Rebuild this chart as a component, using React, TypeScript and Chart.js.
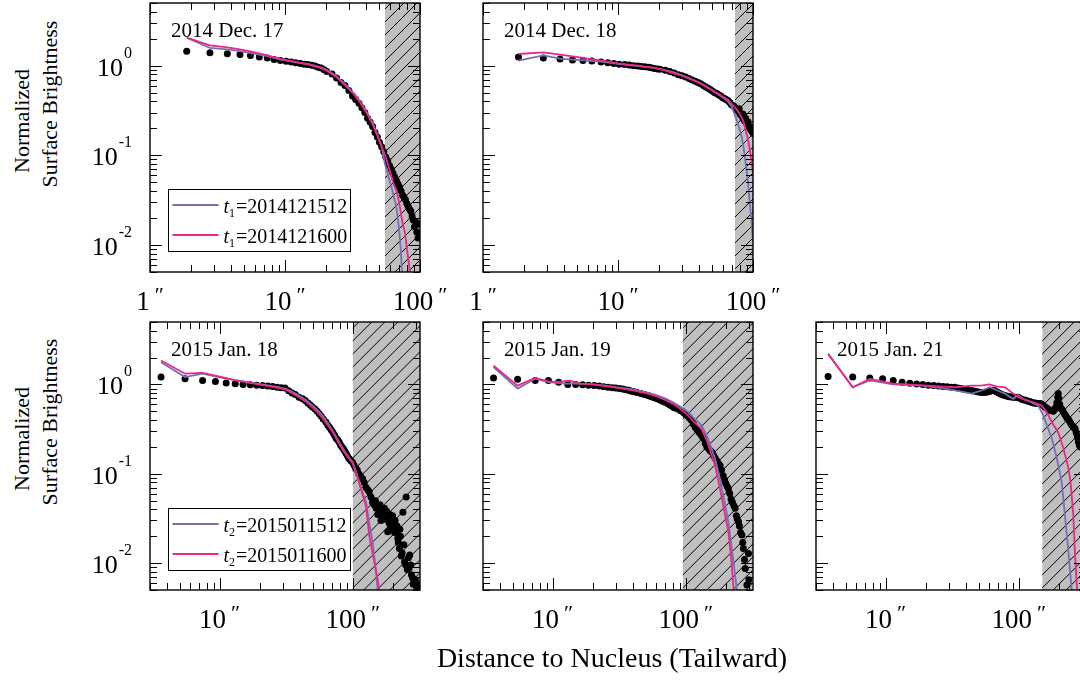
import React, { useEffect, useRef } from "react";
import { Chart, registerables } from "chart.js";

Chart.register(...registerables);

const FONT = '"Liberation Serif", "Times New Roman", serif';
const BLUE = "#7570b3";
const PINK = "#e7298a";
const HATCH_GRAY = "#bfbfbf";
const M = 60;

// ---------- 2014 Dec. 17 ----------
const dec17Dist = [1.87, 2.78, 3.74, 4.64, 5.55, 6.45, 7.4, 8.3, 9.25, 10.2, 11.1, 12.0, 13.0, 13.9, 14.8, 15.8, 16.7, 17.6, 18.5, 19.5, 20.4, 22.3, 24.1, 26.0, 27.8, 29.7, 31.6, 33.4, 35.3, 37.1, 39.0, 40.9, 42.7, 44.6, 46.4, 48.3, 50.1, 52.0, 53.9, 55.7, 57.6, 59.4, 61.3, 63.1, 65.0, 66.9, 68.7, 70.6, 72.4, 74.3, 76.1, 78.0, 79.9, 81.7, 83.6, 85.4, 87.3, 89.1, 91.0, 92.9, 94.7, 96.6, 98.4, 100.3];
const dec17Obs = [1.45, 1.39, 1.36, 1.33, 1.30, 1.25, 1.22, 1.17, 1.14, 1.12, 1.10, 1.08, 1.06, 1.04, 1.03, 1.01, 0.99, 0.96, 0.94, 0.90, 0.86, 0.81, 0.73, 0.65, 0.60, 0.53, 0.46, 0.42, 0.38, 0.34, 0.30, 0.26, 0.235, 0.21, 0.18, 0.16, 0.14, 0.125, 0.11, 0.096, 0.087, 0.077, 0.07, 0.063, 0.057, 0.052, 0.048, 0.044, 0.040, 0.036, 0.034, 0.032, 0.029, 0.027, 0.025, 0.024, 0.021, 0.019, 0.016, 0.018, 0.014, 0.012, 0.017, 0.013];
const dec17DistA = [1.87, 2.78, 3.74, 4.64, 5.55, 7.4, 9.25, 12, 15, 18, 20.4, 24, 28, 32, 36, 40, 44, 48, 52, 55, 58, 62, 67, 70, 72, 73.5, 75];
const dec17ModelA = [2.05, 1.58, 1.52, 1.45, 1.38, 1.28, 1.17, 1.09, 1.04, 0.97, 0.9, 0.77, 0.62, 0.5, 0.4, 0.31, 0.24, 0.175, 0.125, 0.08, 0.06, 0.042, 0.026, 0.015, 0.009, 0.005, 0.003];
const dec17DistB = [1.87, 2.78, 3.74, 4.64, 5.55, 7.4, 9.25, 12, 15, 18, 20.4, 24, 28, 32, 36, 40, 44, 48, 52, 56, 60, 64, 67, 70, 74, 77.6, 80, 82, 84, 86];
const dec17ModelB = [2.05, 1.68, 1.6, 1.52, 1.44, 1.3, 1.19, 1.1, 1.03, 0.95, 0.88, 0.75, 0.6, 0.49, 0.39, 0.3, 0.23, 0.17, 0.125, 0.094, 0.066, 0.047, 0.04, 0.03, 0.018, 0.0134, 0.009, 0.007, 0.005, 0.003];

// ---------- 2014 Dec. 18 ----------
const dec18Dist = [1.83, 2.8, 3.72, 4.6, 5.5, 6.4, 7.5, 8.4, 9.3, 10.2, 11.2, 12.1, 13.0, 14.0, 14.9, 15.8, 16.8, 17.7, 18.6, 19.6, 20.5, 22.4, 24.2, 26.1, 28.0, 29.8, 31.7, 33.6, 35.4, 37.3, 39.1, 41.0, 42.9, 44.7, 46.6, 48.5, 50.3, 52.2, 54.0, 55.9, 57.8, 59.6, 61.5, 63.4, 65.2, 67.1, 69.0, 70.8, 72.7, 74.5, 76.4, 78.3, 80.1, 82.0, 83.9, 85.7, 87.6, 89.4, 91.3, 93.2, 95.0, 96.9, 98.8, 100.6, 79, 84, 88, 92, 97, 99.5];
const dec18Obs = [1.25, 1.22, 1.19, 1.16, 1.14, 1.13, 1.10, 1.08, 1.06, 1.04, 1.03, 1.02, 1.0, 0.99, 0.98, 0.97, 0.96, 0.95, 0.93, 0.92, 0.91, 0.89, 0.86, 0.83, 0.79, 0.77, 0.75, 0.72, 0.69, 0.67, 0.65, 0.63, 0.60, 0.58, 0.56, 0.54, 0.52, 0.50, 0.49, 0.47, 0.46, 0.44, 0.43, 0.42, 0.41, 0.39, 0.37, 0.36, 0.35, 0.33, 0.32, 0.31, 0.29, 0.28, 0.265, 0.25, 0.24, 0.23, 0.22, 0.21, 0.20, 0.19, 0.182, 0.175, 0.33, 0.29, 0.26, 0.235, 0.205, 0.19];
const dec18DistA = [1.83, 2.8, 3.72, 4.6, 5.5, 7.5, 10, 14, 18, 22, 26, 30, 35, 40, 45, 50, 55, 60, 65, 69.4, 73, 77, 80, 82.5, 86, 89, 92, 95, 97.5, 99, 100];
const dec18ModelA = [1.14, 1.30, 1.20, 1.17, 1.15, 1.11, 1.05, 0.99, 0.95, 0.90, 0.84, 0.78, 0.71, 0.65, 0.59, 0.53, 0.48, 0.44, 0.40, 0.35, 0.29, 0.23, 0.19, 0.16, 0.11, 0.075, 0.048, 0.028, 0.018, 0.013, 0.011];
const dec18DistB = [1.83, 2.8, 3.72, 4.6, 5.5, 7.5, 10, 14, 18, 22, 26, 30, 35, 40, 45, 50, 55, 60, 65, 70, 75, 80, 85, 87, 90, 93, 95, 97, 99, 100];
const dec18ModelB = [1.35, 1.41, 1.33, 1.27, 1.22, 1.14, 1.06, 1.0, 0.95, 0.89, 0.82, 0.77, 0.70, 0.64, 0.58, 0.53, 0.49, 0.45, 0.42, 0.37, 0.33, 0.29, 0.24, 0.21, 0.17, 0.135, 0.114, 0.09, 0.07, 0.062];

// ---------- 2015 Jan. 18 ----------
const jan18Dist = [3.63, 5.5, 7.45, 9.3, 11.2, 13.1, 15.0, 17, 19, 21, 23, 25, 27, 29, 31, 33, 35, 37, 39.5, 42, 44, 46, 48, 49.7, 52, 54, 56, 58, 60, 62.8, 65, 67, 69, 71, 73, 75, 77, 79, 81, 83, 85, 87, 89, 91, 93, 95, 97, 99.6, 102, 105, 108, 111, 114, 118.5, 122, 126, 130, 133, 137, 141, 145, 150, 154, 158, 163, 168, 173, 178, 183, 188, 195, 199, 204, 208, 212, 218, 224, 228, 232, 238, 242, 245, 252, 257, 262, 268, 272, 276, 282, 290, 300, 312, 148, 160, 165, 170, 175, 180, 185, 190, 192, 200, 206, 215, 220, 226, 235, 250, 265, 285, 295, 305];
const jan18Obs = [1.21, 1.16, 1.11, 1.08, 1.04, 1.02, 1.0, 0.99, 0.98, 0.97, 0.96, 0.95, 0.93, 0.92, 0.91, 0.85, 0.80, 0.77, 0.72, 0.69, 0.66, 0.62, 0.59, 0.56, 0.53, 0.50, 0.47, 0.44, 0.41, 0.38, 0.35, 0.33, 0.31, 0.29, 0.27, 0.25, 0.24, 0.227, 0.21, 0.20, 0.19, 0.18, 0.17, 0.16, 0.15, 0.145, 0.14, 0.135, 0.125, 0.115, 0.11, 0.10, 0.095, 0.088, 0.08, 0.07, 0.066, 0.063, 0.055, 0.048, 0.045, 0.041, 0.035, 0.037, 0.03, 0.033, 0.041, 0.031, 0.0224, 0.028, 0.028, 0.034, 0.024, 0.03, 0.0224, 0.019, 0.0146, 0.02, 0.012, 0.037, 0.016, 0.0103, 0.055, 0.0085, 0.0115, 0.0123, 0.0095, 0.0074, 0.0068, 0.0062, 0.0055, 0.0052, 0.05, 0.045, 0.038, 0.04, 0.034, 0.038, 0.03, 0.035, 0.025, 0.028, 0.022, 0.026, 0.017, 0.024, 0.013, 0.0095, 0.0088, 0.0058, 0.0065, 0.0058];
const jan18DistA = [3.63, 5.5, 7.45, 10, 13, 17, 22, 27, 31, 35, 40, 45, 50, 55, 60, 65, 70, 75, 80, 85, 90, 95, 100, 105, 110, 115, 120, 126, 132, 136, 141, 146, 150, 154, 158];
const jan18ModelA = [1.77, 1.21, 1.32, 1.2, 1.12, 1.05, 0.99, 0.94, 0.90, 0.83, 0.74, 0.66, 0.58, 0.51, 0.44, 0.37, 0.31, 0.26, 0.22, 0.19, 0.165, 0.148, 0.135, 0.11, 0.088, 0.07, 0.058, 0.048, 0.03, 0.023, 0.0173, 0.011, 0.0075, 0.005, 0.003];
const jan18DistB = [3.63, 5.5, 7.45, 10, 13, 17, 22, 27, 31, 35, 40, 45, 50, 55, 60, 65, 70, 75, 80, 85, 90, 95, 100, 105, 110, 115, 120, 126, 133, 138, 144, 150, 154, 158, 162];
const jan18ModelB = [1.85, 1.32, 1.35, 1.22, 1.12, 1.04, 0.97, 0.92, 0.88, 0.8, 0.71, 0.63, 0.55, 0.48, 0.41, 0.35, 0.3, 0.25, 0.21, 0.18, 0.16, 0.145, 0.13, 0.105, 0.085, 0.068, 0.055, 0.043, 0.0205, 0.015, 0.011, 0.008, 0.0065, 0.005, 0.003];

// ---------- 2015 Jan. 19 ----------
const jan19Dist = [3.6, 5.46, 7.4, 9.3, 11.1, 13, 14.9, 16.8, 18.6, 20.5, 22.4, 24.2, 26.1, 28, 29.8, 31.7, 33.6, 35.4, 37.3, 39.1, 41, 43, 46, 49, 52, 55, 58, 61, 64, 67, 70, 73, 76, 79, 82, 85, 88, 91, 94, 97, 100, 104, 107, 110, 114, 118, 122, 126, 131, 135, 140, 144, 149, 153, 157, 162, 166, 171, 176, 181, 186, 191, 196, 200, 205, 209, 214, 219, 224, 230, 235, 240, 244, 249, 253, 258, 264, 268, 271, 276, 280, 288, 296, 298];
const jan19Obs = [1.18, 1.14, 1.11, 1.11, 1.06, 1.0, 1.0, 0.99, 0.98, 0.97, 0.96, 0.94, 0.93, 0.92, 0.91, 0.90, 0.89, 0.87, 0.86, 0.84, 0.83, 0.81, 0.79, 0.77, 0.75, 0.73, 0.71, 0.69, 0.67, 0.65, 0.63, 0.61, 0.59, 0.57, 0.55, 0.54, 0.53, 0.51, 0.50, 0.48, 0.46, 0.44, 0.42, 0.40, 0.36, 0.33, 0.31, 0.29, 0.27, 0.25, 0.22, 0.20, 0.19, 0.18, 0.175, 0.16, 0.15, 0.14, 0.13, 0.124, 0.11, 0.095, 0.085, 0.078, 0.072, 0.068, 0.06, 0.052, 0.048, 0.044, 0.041, 0.034, 0.031, 0.029, 0.026, 0.022, 0.0206, 0.017, 0.0146, 0.011, 0.0087, 0.0057, 0.0128, 0.0065];
const jan19DistA = [3.6, 5.46, 7.4, 9.3, 12.5, 15, 20, 25, 30, 40, 50, 60, 70, 80, 90, 104, 115, 131, 145, 166, 180, 195, 209, 220, 230, 242, 250];
const jan19ModelA = [1.56, 0.9, 1.16, 1.06, 1.02, 1.02, 1.0, 0.97, 0.93, 0.88, 0.82, 0.76, 0.70, 0.63, 0.57, 0.49, 0.42, 0.35, 0.26, 0.148, 0.09, 0.05, 0.029, 0.016, 0.0095, 0.005, 0.003];
const jan19DistB = [3.6, 5.46, 7.4, 9.3, 11, 13.5, 16, 20, 25, 30, 40, 50, 60, 70, 80, 90, 104, 115, 131, 145, 166, 180, 195, 209, 220, 229, 235];
const jan19ModelB = [1.62, 0.97, 1.18, 1.08, 1.07, 1.1, 1.02, 1.0, 0.96, 0.92, 0.86, 0.8, 0.74, 0.67, 0.61, 0.54, 0.45, 0.38, 0.32, 0.23, 0.124, 0.07, 0.038, 0.0225, 0.011, 0.005, 0.003];

// ---------- 2015 Jan. 21 ----------
const jan21Dist = [3.7, 5.66, 7.6, 9.5, 11.4, 13.3, 15.2, 17.1, 19, 21, 23, 25, 27, 29, 31, 33, 35, 37, 39, 41, 43, 45, 47, 49, 51, 53, 55, 57, 59, 61, 63, 65, 67, 69, 71, 73, 75, 78, 81, 84, 87, 90, 93, 96, 99, 102, 106, 110, 114, 118, 122, 125, 129, 133, 137, 141, 145, 149, 153, 157, 161, 165, 169, 173, 177, 181, 185, 189, 193, 196, 198, 200, 203, 206, 210, 215, 220, 225, 230, 235, 240, 245, 250, 255, 260, 265, 270, 275, 280, 285, 290];
const jan21Obs = [1.23, 1.21, 1.18, 1.16, 1.11, 1.06, 1.03, 1.01, 1.0, 0.98, 0.97, 0.96, 0.95, 0.94, 0.93, 0.93, 0.91, 0.90, 0.88, 0.87, 0.86, 0.85, 0.84, 0.83, 0.82, 0.81, 0.81, 0.82, 0.83, 0.84, 0.86, 0.86, 0.84, 0.82, 0.80, 0.78, 0.77, 0.75, 0.74, 0.73, 0.73, 0.72, 0.72, 0.72, 0.72, 0.70, 0.68, 0.67, 0.66, 0.65, 0.64, 0.63, 0.62, 0.62, 0.61, 0.61, 0.61, 0.60, 0.58, 0.56, 0.55, 0.53, 0.52, 0.51, 0.51, 0.50, 0.52, 0.55, 0.62, 0.72, 0.79, 0.70, 0.60, 0.55, 0.53, 0.50, 0.47, 0.45, 0.42, 0.41, 0.39, 0.37, 0.35, 0.34, 0.33, 0.32, 0.29, 0.26, 0.23, 0.21, 0.20];
const jan21DistA = [3.7, 5.66, 7.6, 11.4, 18.6, 25, 33.2, 44.3, 52, 60.8, 70, 78.7, 85, 91, 99, 110, 125, 140, 153, 165, 177, 193, 210, 222, 235, 245, 250, 255];
const jan21ModelA = [2.2, 0.93, 1.11, 1.0, 0.97, 0.92, 0.86, 0.79, 0.85, 0.93, 0.85, 0.79, 0.73, 0.69, 0.76, 0.68, 0.63, 0.58, 0.45, 0.33, 0.25, 0.15, 0.081, 0.035, 0.0146, 0.007, 0.005, 0.003];
const jan21DistB = [3.7, 5.66, 7.6, 11.4, 18, 25, 33.2, 44, 52, 60, 68, 78.7, 90, 99, 110, 125, 149, 163, 177, 198, 215, 235, 245, 257, 265, 272, 275, 278];
const jan21ModelB = [2.2, 0.93, 1.15, 1.02, 0.98, 0.95, 0.93, 0.97, 0.97, 1.0, 0.95, 0.93, 0.8, 0.72, 0.68, 0.64, 0.58, 0.48, 0.38, 0.29, 0.2, 0.12, 0.08, 0.034, 0.012, 0.0062, 0.005, 0.003];

// ---------- ticks, labels ----------
const topXTicks = [1, 10, 100];
const bottomXTicks = [10, 100];
const yTicks = [1, 0.1, 0.01];
const yTickExps = ["0", "-1", "-2"];
const legendTop = ["2014121512", "2014121600"];
const legendBottom = ["2015011512", "2015011600"];
const panelTitles = ["2014 Dec. 17", "2014 Dec. 18", "2015 Jan. 18", "2015 Jan. 19", "2015 Jan. 21"];
const hatchStarts = [55, 73.6, 100, 95, 150];
const yTitleLines = ["Normalized", "Surface Brightness"];
const xTitle = "Distance to Nucleus (Tailward)";

const zip = (xs: number[], ys: number[]) => {
  const n = Math.min(xs.length, ys.length);
  const out: { x: number; y: number }[] = [];
  for (let i = 0; i < n; i++) out.push({ x: xs[i], y: ys[i] });
  return out;
};

type PanelCfg = {
  left: number; top: number; w: number; h: number;
  xMin: number; xMax: number; yMin: number; yMax: number;
  obs: { x: number; y: number }[];
  a: { x: number; y: number }[];
  b: { x: number; y: number }[];
  hatch: number; title: string; xTicks: number[]; showY: boolean;
  legend: string[] | null; sub: string;
};

const TOP_X = [1, 100];
const BOT_X = [3, 320];
const Y_RANGE = [0.005, 5];

const panels: PanelCfg[] = [
  { left: 150, top: 3, w: 270, h: 269, xMin: TOP_X[0], xMax: TOP_X[1], yMin: Y_RANGE[0], yMax: Y_RANGE[1], obs: zip(dec17Dist, dec17Obs), a: zip(dec17DistA, dec17ModelA), b: zip(dec17DistB, dec17ModelB), hatch: hatchStarts[0], title: panelTitles[0], xTicks: topXTicks, showY: true, legend: legendTop, sub: "1" },
  { left: 483, top: 3, w: 270, h: 269, xMin: TOP_X[0], xMax: TOP_X[1], yMin: Y_RANGE[0], yMax: Y_RANGE[1], obs: zip(dec18Dist, dec18Obs), a: zip(dec18DistA, dec18ModelA), b: zip(dec18DistB, dec18ModelB), hatch: hatchStarts[1], title: panelTitles[1], xTicks: topXTicks, showY: false, legend: null, sub: "1" },
  { left: 150, top: 322, w: 270, h: 268, xMin: BOT_X[0], xMax: BOT_X[1], yMin: Y_RANGE[0], yMax: Y_RANGE[1], obs: zip(jan18Dist, jan18Obs), a: zip(jan18DistA, jan18ModelA), b: zip(jan18DistB, jan18ModelB), hatch: hatchStarts[2], title: panelTitles[2], xTicks: bottomXTicks, showY: true, legend: legendBottom, sub: "2" },
  { left: 483, top: 322, w: 270, h: 268, xMin: BOT_X[0], xMax: BOT_X[1], yMin: Y_RANGE[0], yMax: Y_RANGE[1], obs: zip(jan19Dist, jan19Obs), a: zip(jan19DistA, jan19ModelA), b: zip(jan19DistB, jan19ModelB), hatch: hatchStarts[3], title: panelTitles[3], xTicks: bottomXTicks, showY: false, legend: null, sub: "2" },
  { left: 816, top: 322, w: 270, h: 268, xMin: BOT_X[0], xMax: BOT_X[1], yMin: Y_RANGE[0], yMax: Y_RANGE[1], obs: zip(jan21Dist, jan21Obs), a: zip(jan21DistA, jan21ModelA), b: zip(jan21DistB, jan21ModelB), hatch: hatchStarts[4], title: panelTitles[4], xTicks: bottomXTicks, showY: false, legend: null, sub: "2" },
];

function logTicks(min: number, max: number) {
  const out: { v: number; major: boolean }[] = [];
  for (let e = Math.floor(Math.log10(min)) - 1; e <= Math.ceil(Math.log10(max)); e++) {
    for (let k = 1; k <= 9; k++) {
      const v = k * Math.pow(10, e);
      if (v >= min * 0.999 && v <= max * 1.001) out.push({ v, major: k === 1 });
    }
  }
  return out;
}

function makePlugin(cfg: PanelCfg) {
  return {
    id: "panelDecor",
    beforeDatasetsDraw(chart: any) {
      const { ctx, chartArea: a, scales } = chart;
      const hx = scales.x.getPixelForValue(cfg.hatch);
      const h = a.bottom - a.top;
      ctx.save();
      ctx.beginPath();
      ctx.rect(hx, a.top, a.right - hx, h);
      ctx.clip();
      ctx.fillStyle = HATCH_GRAY;
      ctx.fillRect(hx, a.top, a.right - hx, h);
      ctx.strokeStyle = "#000";
      ctx.lineWidth = 1;
      ctx.beginPath();
      for (let s = hx - h - 20; s < a.right + 20; s += 13) {
        ctx.moveTo(s, a.bottom);
        ctx.lineTo(s + h, a.top);
      }
      ctx.stroke();
      ctx.restore();
    },
    afterDatasetsDraw(chart: any) {
      const { ctx, chartArea: a, scales } = chart;
      ctx.save();
      ctx.strokeStyle = "#000";
      ctx.lineWidth = 1;
      ctx.beginPath();
      for (const t of logTicks(cfg.xMin, cfg.xMax)) {
        const x = Math.round(scales.x.getPixelForValue(t.v)) + 0.5;
        const L = t.major ? 12 : 7;
        ctx.moveTo(x, a.bottom); ctx.lineTo(x, a.bottom - L);
        ctx.moveTo(x, a.top); ctx.lineTo(x, a.top + L);
      }
      for (const t of logTicks(cfg.yMin, cfg.yMax)) {
        const y = Math.round(scales.y.getPixelForValue(t.v)) + 0.5;
        const L = t.major ? 12 : 7;
        ctx.moveTo(a.left, y); ctx.lineTo(a.left + L, y);
        ctx.moveTo(a.right, y); ctx.lineTo(a.right - L, y);
      }
      ctx.stroke();
      ctx.lineWidth = 1.4;
      ctx.strokeRect(a.left, a.top, a.right - a.left, a.bottom - a.top);

      ctx.fillStyle = "#000";
      ctx.textBaseline = "alphabetic";
      ctx.textAlign = "left";
      for (const v of cfg.xTicks) {
        const x = scales.x.getPixelForValue(v);
        const main = String(v);
        ctx.font = `27px ${FONT}`;
        const w1 = ctx.measureText(main).width;
        ctx.font = `22px ${FONT}`;
        const pr = "\u2033";
        const w2 = ctx.measureText(pr).width;
        const gap = 5;
        const x0 = x - (w1 + gap + w2) / 2;
        ctx.font = `27px ${FONT}`;
        ctx.fillText(main, x0, a.bottom + 38);
        ctx.font = `22px ${FONT}`;
        ctx.fillText(pr, x0 + w1 + gap, a.bottom + 30);
      }
      if (cfg.showY) {
        yTicks.forEach((v, i) => {
          const y = scales.y.getPixelForValue(v);
          ctx.font = `26px ${FONT}`;
          const w1 = ctx.measureText("10").width;
          ctx.font = `16px ${FONT}`;
          const w2 = ctx.measureText(yTickExps[i]).width;
          const right = a.left - 18;
          const x0 = right - w1 - w2 - 1;
          ctx.font = `26px ${FONT}`;
          ctx.fillText("10", x0, y + 10);
          ctx.font = `16px ${FONT}`;
          ctx.fillText(yTickExps[i], x0 + w1 + 1, y - 8);
        });
      }
      ctx.font = `21px ${FONT}`;
      ctx.fillText(cfg.title, a.left + 21, a.top + 34);
      if (cfg.legend) {
        const bx = a.left + 18.5;
        const by = a.top + 186.5;
        ctx.fillStyle = "#fff";
        ctx.fillRect(bx, by, 182, 62);
        ctx.strokeStyle = "#000";
        ctx.lineWidth = 1;
        ctx.strokeRect(bx, by, 182, 62);
        const cols = [BLUE, PINK];
        cfg.legend.forEach((lab, i) => {
          const ly = by + 15.5 + i * 30;
          ctx.strokeStyle = cols[i];
          ctx.lineWidth = 1.8;
          ctx.beginPath();
          ctx.moveTo(bx + 4, ly);
          ctx.lineTo(bx + 50, ly);
          ctx.stroke();
          ctx.fillStyle = "#000";
          let tx = bx + 55;
          ctx.font = `italic 20px ${FONT}`;
          ctx.fillText("t", tx, ly + 8);
          tx += ctx.measureText("t").width;
          ctx.font = `12px ${FONT}`;
          ctx.fillText(cfg.sub, tx, ly + 12);
          tx += ctx.measureText(cfg.sub).width + 1;
          ctx.font = `20px ${FONT}`;
          ctx.fillText("=" + lab, tx, ly + 8);
        });
      }
      ctx.restore();
    },
  };
}

function Panel({ cfg }: { cfg: PanelCfg }) {
  const ref = useRef<HTMLCanvasElement>(null);
  useEffect(() => {
    if (!ref.current) return;
    const chart = new Chart(ref.current, {
      type: "scatter",
      data: {
        datasets: [
          { label: "t2", data: cfg.b, showLine: true, borderColor: PINK, borderWidth: 1.8, pointRadius: 0, order: 0, clip: 0, tension: 0 } as any,
          { label: "t1", data: cfg.a, showLine: true, borderColor: BLUE, borderWidth: 1.8, pointRadius: 0, order: 1, clip: 0, tension: 0 } as any,
          { label: "obs", data: cfg.obs, showLine: false, pointRadius: 3.5, pointBackgroundColor: "#000", pointBorderWidth: 0, backgroundColor: "#000", order: 2, clip: 0 } as any,
        ],
      },
      options: {
        responsive: false,
        maintainAspectRatio: false,
        animation: false,
        events: [],
        layout: { padding: { left: M, right: M, top: M, bottom: M } },
        scales: {
          x: { type: "logarithmic", min: cfg.xMin, max: cfg.xMax, display: false },
          y: { type: "logarithmic", min: cfg.yMin, max: cfg.yMax, display: false },
        },
        plugins: { legend: { display: false }, tooltip: { enabled: false } },
      } as any,
      plugins: [makePlugin(cfg) as any],
    });
    return () => chart.destroy();
  }, []);
  return (
    <canvas
      ref={ref}
      width={cfg.w + 2 * M}
      height={cfg.h + 2 * M}
      style={{ position: "absolute", left: cfg.left - M, top: cfg.top - M, width: cfg.w + 2 * M, height: cfg.h + 2 * M }}
    />
  );
}

function YTitle({ cy }: { cy: number }) {
  const base: React.CSSProperties = {
    position: "absolute",
    transform: "translate(-50%, -50%) rotate(-90deg)",
    whiteSpace: "nowrap",
    fontFamily: FONT,
    fontSize: 22,
    lineHeight: "22px",
    color: "#000",
  };
  return (
    <>
      <div style={{ ...base, left: 22, top: cy + 17 }}>{yTitleLines[0]}</div>
      <div style={{ ...base, left: 50, top: cy }}>{yTitleLines[1]}</div>
    </>
  );
}

export default function App() {
  return (
    <div style={{ position: "absolute", left: 0, top: 0, width: 1080, height: 689, overflow: "hidden", background: "#fff" }}>
      {panels.map((p, i) => (
        <Panel key={i} cfg={p} />
      ))}
      <YTitle cy={104} />
      <YTitle cy={422} />
      <div
        style={{
          position: "absolute",
          left: 612,
          top: 644,
          transform: "translateX(-50%)",
          whiteSpace: "nowrap",
          fontFamily: FONT,
          fontSize: 28,
          lineHeight: "28px",
          color: "#000",
        }}
      >
        {xTitle}
      </div>
    </div>
  );
}
